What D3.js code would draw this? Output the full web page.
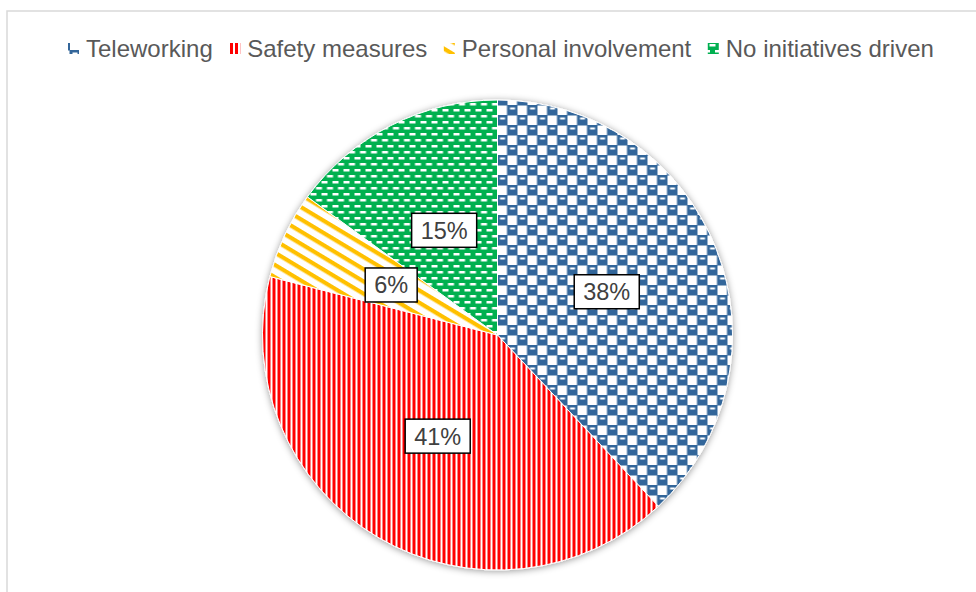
<!DOCTYPE html>
<html><head><meta charset="utf-8">
<script src="https://cdn.jsdelivr.net/npm/d3@7"></script>
<style>html,body{margin:0;padding:0;background:#fff;}svg{display:block;}</style>
</head><body>
<svg id="chart" width="976" height="592"></svg>
<script>
const categories = ["Teleworking", "Safety measures", "Personal involvement", "No initiatives driven"];
const values = [38, 41, 6, 15];
const labels = ["38%", "41%", "6%", "15%"];
const colors = ["#33669a", "#ff0000", "#ffc000", "#00b050"];

const svg = d3.select("#chart");
const W = 976, H = 592;
const defs = svg.append("defs");

// Teleworking: checkerboard with small white dashes in blue cells
const p0 = defs.append("pattern").attr("id","pat0").attr("patternUnits","userSpaceOnUse").attr("width",20).attr("height",20);
p0.append("rect").attr("width",20).attr("height",20).attr("fill",colors[0]);
p0.append("rect").attr("x",10).attr("y",0.5).attr("width",9.5).attr("height",9.5).attr("fill","#fff");
p0.append("rect").attr("x",0).attr("y",10.5).attr("width",9.5).attr("height",9.5).attr("fill","#fff");
p0.append("rect").attr("x",2.5).attr("y",2.5).attr("width",5).attr("height",2).attr("fill","#fff");
p0.append("rect").attr("x",12.5).attr("y",12.5).attr("width",5).attr("height",2).attr("fill","#fff");
// Safety: vertical stripes
const p1 = defs.append("pattern").attr("id","pat1").attr("patternUnits","userSpaceOnUse").attr("width",5).attr("height",5);
p1.append("rect").attr("width",5).attr("height",5).attr("fill","#fff");
p1.append("rect").attr("width",3).attr("height",5).attr("fill",colors[1]);
// Personal: diagonal stripes
const p2 = defs.append("pattern").attr("id","pat2").attr("patternUnits","userSpaceOnUse").attr("width",10).attr("height",10.5).attr("patternTransform","rotate(31)");
p2.append("rect").attr("width",10).attr("height",10.5).attr("fill","#fff");
p2.append("rect").attr("width",10).attr("height",4.2).attr("fill",colors[2]);
// No initiatives: dashes
const p3 = defs.append("pattern").attr("id","pat3").attr("patternUnits","userSpaceOnUse").attr("width",11).attr("height",12);
p3.append("rect").attr("width",11).attr("height",12).attr("fill",colors[3]);
p3.append("rect").attr("x",0).attr("y",2).attr("width",6).attr("height",2.5).attr("fill","#fff");
p3.append("rect").attr("x",5.5).attr("y",8).attr("width",6).attr("height",2.5).attr("fill","#fff");
p3.append("rect").attr("x",-5.5).attr("y",8).attr("width",6).attr("height",2.5).attr("fill","#fff");

const f = defs.append("filter").attr("id","shadow").attr("x","-10%").attr("y","-10%").attr("width","120%").attr("height","120%");
f.append("feDropShadow").attr("dx",0).attr("dy",1).attr("stdDeviation",3.5).attr("flood-color","#000").attr("flood-opacity",0.4);

// Border
svg.append("rect").attr("x",7).attr("y",11).attr("width",W+20).attr("height",H+20)
  .attr("fill","#fff").attr("stroke","#d9d9d9").attr("stroke-width",1.5);

// Pie
const cx = 497.5, cy = 335, r = 235;
const pie = d3.pie().sort(null).value(d => d.v);
const data = pie(categories.map((c,i)=>({c, v: values[i], i})));
const arc = d3.arc().innerRadius(0).outerRadius(r);
const g = svg.append("g").attr("transform",`translate(${cx},${cy})`);
const gs = g.append("g").attr("filter","url(#shadow)");
gs.selectAll("path").data(data).join("path")
  .attr("d", arc)
  .attr("fill", d => `url(#pat${d.data.i})`)
  .attr("stroke","#fff").attr("stroke-width",1);

// Labels
const lg = g.selectAll("g.lbl").data(data).join("g").attr("class","lbl")
  .attr("transform", d => { const c = arc.centroid(d); return `translate(${c[0]},${c[1]})`; });
lg.each(function(d){
  const gg = d3.select(this);
  const t = gg.append("text").text(labels[d.data.i])
    .attr("font-family","Liberation Sans, Arial, sans-serif").attr("font-size",23.5)
    .attr("fill","#404040").attr("text-anchor","middle").attr("dy","0.36em");
  const w = t.node().getComputedTextLength();
  gg.insert("rect","text").attr("x",-w/2-9).attr("y",-17).attr("width",w+18).attr("height",34)
    .attr("fill","#fff").attr("stroke","#000").attr("stroke-width",1.5);
});

// Legend
const leg = svg.append("g");
let x = 68;
const ly = 57;
categories.forEach((c,i)=>{
  leg.append("rect").attr("x",x).attr("y",ly-14).attr("width",11).attr("height",11).attr("fill",`url(#pat${i})`);
  const t = leg.append("text").attr("x",x+18).attr("y",ly).text(c)
    .attr("font-family","Liberation Sans, Arial, sans-serif").attr("font-size",24).attr("fill","#595959");
  x = x + 18 + t.node().getComputedTextLength() + 16.5;
});
</script>
</body></html>
